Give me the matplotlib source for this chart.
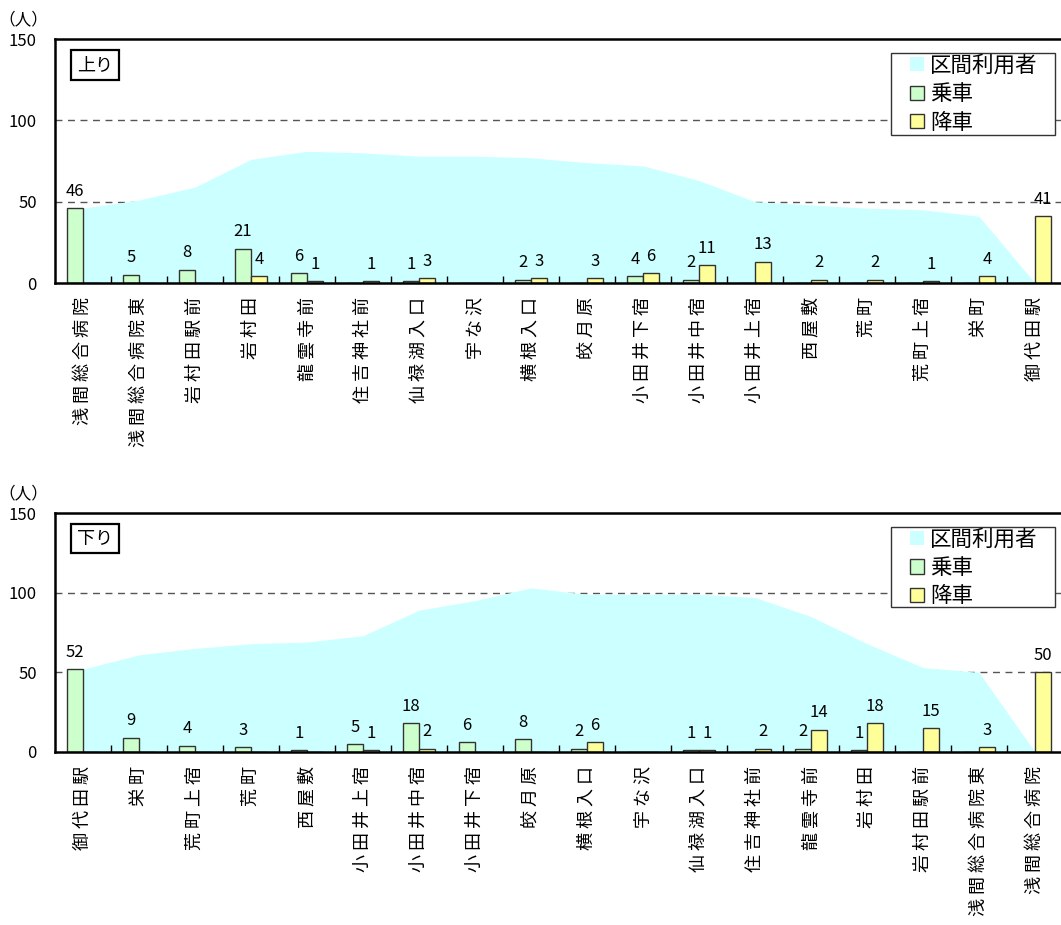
import matplotlib
matplotlib.use('Agg')
import matplotlib.pyplot as plt
from matplotlib.patches import Patch, Rectangle
import numpy as np

plt.rcParams['font.family'] = ['Noto Sans CJK JP', 'DejaVu Sans']

# 上り
up_stops = ['浅間総合病院', '浅間総合病院東', '岩村田駅前', '岩村田', '龍雲寺前', '住吉神社前',
            '仙禄湖入口', '宇な沢', '横根入口', '皎月原', '小田井下宿', '小田井中宿',
            '小田井上宿', '西屋敷', '荒町', '荒町上宿', '栄町', '御代田駅']
up_board = [46, 5, 8, 21, 6, 0, 1, 0, 2, 0, 4, 2, 0, 0, 0, 0, 0, 0]
up_alight = [0, 0, 0, 4, 1, 1, 3, 0, 3, 3, 6, 11, 13, 2, 2, 1, 4, 41]
up_riders = [46, 51, 59, 76, 81, 80, 78, 78, 77, 74, 72, 63, 50, 48, 46, 45, 41, 0]

# 下り
down_stops = ['御代田駅', '栄町', '荒町上宿', '荒町', '西屋敷', '小田井上宿', '小田井中宿',
              '小田井下宿', '皎月原', '横根入口', '宇な沢', '仙禄湖入口', '住吉神社前',
              '龍雲寺前', '岩村田', '岩村田駅前', '浅間総合病院東', '浅間総合病院']
down_board = [52, 9, 4, 3, 1, 5, 18, 6, 8, 2, 0, 1, 0, 2, 1, 0, 0, 0]
down_alight = [0, 0, 0, 0, 0, 1, 2, 0, 0, 6, 0, 1, 2, 14, 18, 15, 3, 50]
down_riders = [52, 61, 65, 68, 69, 73, 89, 95, 103, 99, 99, 99, 97, 85, 68, 53, 50, 0]

AREA = '#CCFFFF'
GREEN = '#CCFFCC'
YELLOW = '#FFFF99'
EDGE = '#333333'

W, H = 1061, 925
fig = plt.figure(figsize=(W / 100, H / 100), dpi=100)


def px_axes(left, top, right, bottom):
    return fig.add_axes([left / W, (H - bottom) / H, (right - left) / W, (bottom - top) / H])


def draw(ax, stops, board, alight, riders, tag):
    n = len(stops)
    x = np.arange(n)
    w = 0.29
    ax.set_xlim(-0.5, n - 0.5)
    ax.set_ylim(0, 150)

    for yv in (50, 100):
        ax.axhline(yv, color='#555555', lw=1, ls=(0, (5, 4)), zorder=0)
    ax.fill_between(x, riders, color=AREA, lw=0, zorder=1)
    ax.bar(x - w / 2, board, w, color=GREEN, edgecolor=EDGE, lw=1, zorder=2)
    ax.bar(x + w / 2, alight, w, color=YELLOW, edgecolor=EDGE, lw=1, zorder=2)

    for xi, v in zip(x, board):
        if v:
            ax.annotate(str(v), (xi - w / 2, v), xytext=(0, 9), textcoords='offset points',
                        ha='center', va='baseline', fontsize=12, zorder=4)
    for xi, v in zip(x, alight):
        if v:
            ax.annotate(str(v), (xi + w / 2, v), xytext=(0, 9), textcoords='offset points',
                        ha='center', va='baseline', fontsize=12, zorder=4)

    ax.set_yticks([0, 50, 100, 150])
    ax.tick_params(axis='y', length=0, pad=13, labelsize=12)
    ax.set_xticks(x)
    ax.set_xticklabels([' '.join(s) for s in stops], rotation=90, va='top', fontsize=13)
    ax.tick_params(axis='x', which='major', length=0, pad=10)
    ax.set_xticks(x[:-1] + 0.5, minor=True)
    ax.tick_params(axis='x', which='minor', direction='in', length=5, width=1, color='black')

    for side in ('left', 'top', 'bottom'):
        ax.spines[side].set_linewidth(1.8)
    ax.spines['right'].set_visible(False)

    ax.text(0.0397, 0.893, tag, transform=ax.transAxes, ha='center', va='center', fontsize=13,
            bbox=dict(boxstyle='square,pad=0.32', fc='white', ec='black', lw=1.6), zorder=5)
    ax.text(-0.031, 1.08, '（人）', transform=ax.transAxes, ha='center', va='center', fontsize=12)

    # legend frame drawn by hand for the wide side padding
    ax.add_patch(Rectangle((0.8294, 0.607), 0.1626, 0.336, transform=ax.transAxes,
                           fc='white', ec='#333333', lw=1, zorder=6))
    handles = [Patch(facecolor=AREA, edgecolor='none'),
               Patch(facecolor=GREEN, edgecolor=EDGE),
               Patch(facecolor=YELLOW, edgecolor=EDGE)]
    leg = ax.legend(handles, ['区間利用者', '乗車', '降車'], loc='upper left',
                    bbox_to_anchor=(0.848, 0.935), borderaxespad=0, borderpad=0,
                    fontsize=15.5, handlelength=0.65, handleheight=0.65, handletextpad=0.3,
                    labelspacing=0.3, frameon=False)
    leg.set_zorder(7)


ax1 = px_axes(55, 39, 1063, 283)
draw(ax1, up_stops, up_board, up_alight, up_riders, '上り')

ax2 = px_axes(55, 513, 1063, 752)
draw(ax2, down_stops, down_board, down_alight, down_riders, '下り')

fig.savefig('out.png', dpi=100)
